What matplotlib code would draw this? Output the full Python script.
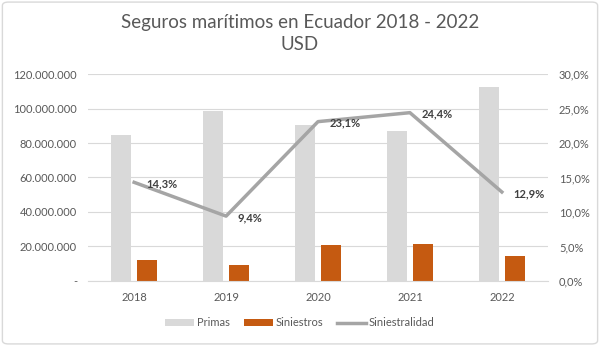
import numpy as np
import matplotlib.pyplot as plt
from matplotlib.ticker import FuncFormatter
from matplotlib.patches import FancyBboxPatch

plt.rcParams['font.family'] = ['Lato', 'DejaVu Sans']

# Datos anuales (USD)
years = ['2018', '2019', '2020', '2021', '2022']
primas = [84.6e6, 98.6e6, 90.4e6, 87.0e6, 112.6e6]
siniestros = [12.1e6, 9.27e6, 20.9e6, 21.2e6, 14.5e6]
siniestralidad = [14.3, 9.4, 23.1, 24.4, 12.9]

gray_txt = '#595959'
fig = plt.figure(figsize=(6, 3.46), dpi=100)
ax = fig.add_axes([0.147, 0.188, 0.766, 0.598])

x = np.arange(len(years))
w = 0.22
ax.bar(x - 0.14, primas, width=w, color='#D9D9D9', label='Primas', zorder=2)
ax.bar(x + 0.14, siniestros, width=w, color='#C55A11', label='Siniestros', zorder=2)

ax.set_xlim(-0.5, 4.5)
ax.set_ylim(0, 120e6)
ax.set_yticks(np.arange(0, 120e6 + 1, 20e6))
ax.yaxis.set_major_formatter(FuncFormatter(
    lambda v, p: '-' if v == 0 else f'{v:,.0f}'.replace(',', '.')))
ax.set_xticks(x)
ax.set_xticklabels(years)
ax.grid(axis='y', color='#D9D9D9', linewidth=0.8, zorder=0)
for s in ['top', 'right', 'left']:
    ax.spines[s].set_visible(False)
ax.spines['bottom'].set_color('#D9D9D9')
ax.tick_params(length=0, labelsize=8, colors=gray_txt, pad=8)

ax2 = ax.twinx()
ax2.plot(x, siniestralidad, color='#A5A5A5', linewidth=2.5, label='Siniestralidad', zorder=3)
ax2.set_ylim(0, 30)
ax2.set_yticks(np.arange(0, 31, 5))
ax2.yaxis.set_major_formatter(FuncFormatter(lambda v, p: f'{v:.1f}%'.replace('.', ',')))
for s in ax2.spines.values():
    s.set_visible(False)
ax2.tick_params(length=0, labelsize=8, colors=gray_txt, pad=8)
for xi, v in zip(x, siniestralidad):
    ax2.annotate(f'{v:.1f}%'.replace('.', ','), (xi, v), xytext=(8.5, -1),
                 textcoords='offset points', ha='left', va='center',
                 fontsize=8, fontweight='bold', color='#404040')

fig.text(0.5, 0.935, 'Seguros marítimos en Ecuador 2018 - 2022', ha='center', va='center',
         fontsize=13.5, color=gray_txt)
fig.text(0.5, 0.87, 'USD', ha='center', va='center', fontsize=13.5, color=gray_txt)

h1, l1 = ax.get_legend_handles_labels()
h2, l2 = ax2.get_legend_handles_labels()
fig.legend(h1 + h2, l1 + l2, loc='center', bbox_to_anchor=(0.5, 0.067), ncol=3,
           frameon=False, fontsize=8, labelcolor=gray_txt, handlelength=2.6,
           handleheight=0.6, columnspacing=1.2, handletextpad=0.3)

fig.patches.append(FancyBboxPatch((0.004, 0.006), 0.992, 0.988,
                                  boxstyle='round,pad=0,rounding_size=0.01',
                                  transform=fig.transFigure, fill=False,
                                  edgecolor='#D9D9D9', linewidth=1))

fig.savefig('out.png', dpi=100, facecolor='white')
